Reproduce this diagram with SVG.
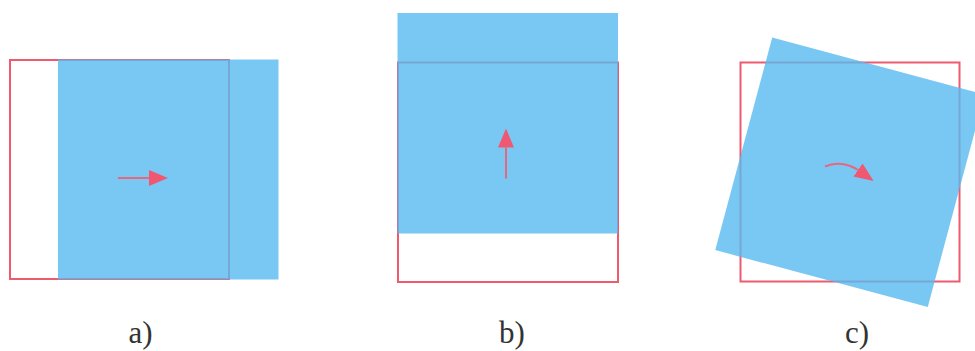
<svg xmlns="http://www.w3.org/2000/svg" width="975" height="351" viewBox="0 0 975 351">
  <style>
    .frame { fill: none; stroke: #EE5A6E; stroke-width: 2; }
    .moved { fill: #58BAF0; fill-opacity: 0.8; stroke: none; }
    .arrow { fill: none; stroke: #E8677E; stroke-width: 2; }
    .label { font-family: "Liberation Serif", "Times New Roman", serif; font-size: 31px; fill: #333333; text-anchor: middle; }
  </style>
  <defs>
    <marker id="head" markerUnits="userSpaceOnUse" markerWidth="20" markerHeight="18" refX="0" refY="8" orient="auto" viewBox="0 0 20 16">
      <path d="M0,0 L19,8 L0,16 z" fill="#EF5870"/>
    </marker>
  </defs>
  <rect width="975" height="351" fill="#ffffff"/>

  <g id="panel-a">
    <rect class="frame" x="10" y="60" width="219" height="219"/>
    <rect class="moved" x="58" y="59.5" width="220.5" height="220"/>
    <text class="label" x="140.5" y="343">a)</text>
  </g>

  <g id="panel-b">
    <rect class="frame" x="398" y="62.5" width="220" height="219.5"/>
    <rect class="moved" x="397.5" y="13" width="220.5" height="220.5"/>
    <text class="label" x="512" y="343">b)</text>
  </g>

  <g id="panel-c">
    <rect class="frame" x="740.5" y="62.5" width="219" height="219"/>
    <rect class="moved" x="-110" y="-110" width="220" height="220" transform="translate(850 172.3) rotate(15)"/>
    <text class="label" x="857" y="343">c)</text>
  </g>

  <g id="connectors">
    <path class="arrow" d="M118,178 L149,178" marker-end="url(#head)"/>
    <path class="arrow" d="M506,178.5 L506,147.5" marker-end="url(#head)"/>
    <path class="arrow" d="M825,166.5 C835,162 848,163 858,170" marker-end="url(#head)"/>
  </g>
</svg>
